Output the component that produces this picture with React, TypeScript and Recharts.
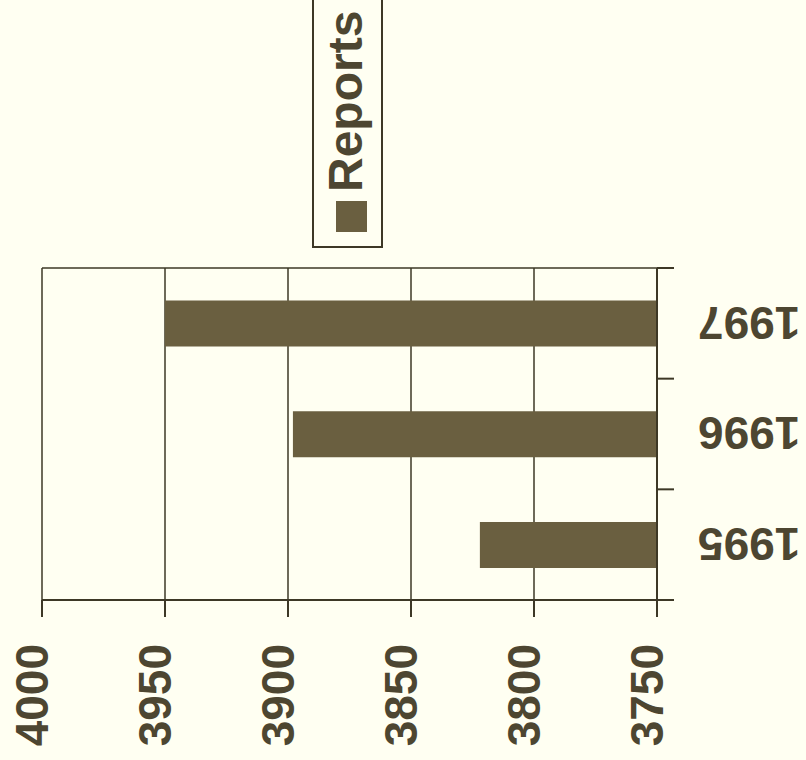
import { BarChart, Bar, XAxis, YAxis, CartesianGrid, Legend } from 'recharts';

const years = ['1995', '1996', '1997'];
const reports = [3822, 3898, 3950];
const valueTicks = [3750, 3800, 3850, 3900, 3950, 4000];

const bg = '#fffff2';
const ink = '#3d3826';
const textInk = '#4d4631';
const barColor = '#6a5f40';
const font = '"Liberation Sans", Arial, sans-serif';

const TICK_SIZE = 17;
const X_TICK_MARGIN = 24;

function YearTick(props: any) {
  const { x, y, payload, index } = props;
  const half = payload.offset ?? 0;
  const axisY = y - TICK_SIZE - X_TICK_MARGIN;
  return (
    <g>
      <line x1={x - half} y1={axisY} x2={x - half} y2={axisY + TICK_SIZE} stroke={ink} strokeWidth={2} />
      {index === years.length - 1 && (
        <line x1={x + half} y1={axisY} x2={x + half} y2={axisY + TICK_SIZE} stroke={ink} strokeWidth={2} />
      )}
      <g transform={`translate(${x},${y}) rotate(-90)`}>
        <text
          textAnchor="end"
          dy="0.36em"
          fill={textInk}
          fontFamily={font}
          fontSize={46}
          fontWeight="bold"
        >
          {payload.value}
        </text>
      </g>
    </g>
  );
}

function ValueTick(props: any) {
  const { x, y, payload } = props;
  return (
    <text
      x={x}
      y={y - 11}
      dy="0.36em"
      textAnchor="end"
      fill={textInk}
      fontFamily={font}
      fontSize={46}
      fontWeight="bold"
    >
      {payload.value}
    </text>
  );
}

function LegendBox() {
  return (
    <div
      style={{
        display: 'flex',
        alignItems: 'flex-start',
        height: 71,
        width: 300,
        boxSizing: 'border-box',
        border: `2px solid ${ink}`,
        background: bg,
      }}
    >
      <span style={{ width: 31, height: 31, background: barColor, marginLeft: 14, marginTop: 22, flex: 'none' }} />
      <span
        style={{
          marginLeft: 9,
          marginTop: 8,
          fontFamily: font,
          fontSize: 48,
          fontWeight: 'bold',
          color: textInk,
          lineHeight: 1,
        }}
      >
        Reports
      </span>
    </div>
  );
}

// closing line of the plot frame, on the far side from the value axis
const frameEdge = (props: any) => {
  const o = props && props.offset;
  return o ? [o.left + o.width] : [];
};

export default function App() {
  const data = years.map((year, i) => ({ year, reports: reports[i] }));

  return (
    <div
      style={{
        position: 'absolute',
        left: 0,
        top: 0,
        width: 806,
        height: 760,
        background: bg,
        overflow: 'hidden',
      }}
    >
      <div
        style={{
          position: 'absolute',
          left: 23,
          top: -23,
          width: 760,
          height: 806,
          transform: 'rotate(-90deg)',
        }}
      >
        <BarChart
          width={760}
          height={806}
          data={data}
          margin={{ top: 42, right: 268, bottom: 29, left: 20 }}
          barCategoryGap="29%"
        >
          <CartesianGrid
            horizontal
            vertical
            verticalCoordinatesGenerator={frameEdge}
            stroke={ink}
            strokeWidth={1.5}
          />
          <XAxis
            dataKey="year"
            height={120}
            tickSize={TICK_SIZE}
            tickMargin={X_TICK_MARGIN}
            tickLine={{ stroke: 'none' }}
            axisLine={{ stroke: ink, strokeWidth: 2 }}
            tick={<YearTick />}
            interval={0}
          />
          <YAxis
            type="number"
            domain={[3750, 4000]}
            ticks={valueTicks}
            width={140}
            tickSize={TICK_SIZE}
            tickMargin={27}
            tickLine={{ stroke: ink, strokeWidth: 2 }}
            axisLine={{ stroke: ink, strokeWidth: 2 }}
            tick={<ValueTick />}
            interval={0}
          />
          <Legend
            layout="horizontal"
            align="center"
            verticalAlign="middle"
            wrapperStyle={{ left: 512, top: 312, width: 300 }}
            content={<LegendBox />}
          />
          <Bar dataKey="reports" name="Reports" fill={barColor} isAnimationActive={false} />
        </BarChart>
      </div>
    </div>
  );
}
